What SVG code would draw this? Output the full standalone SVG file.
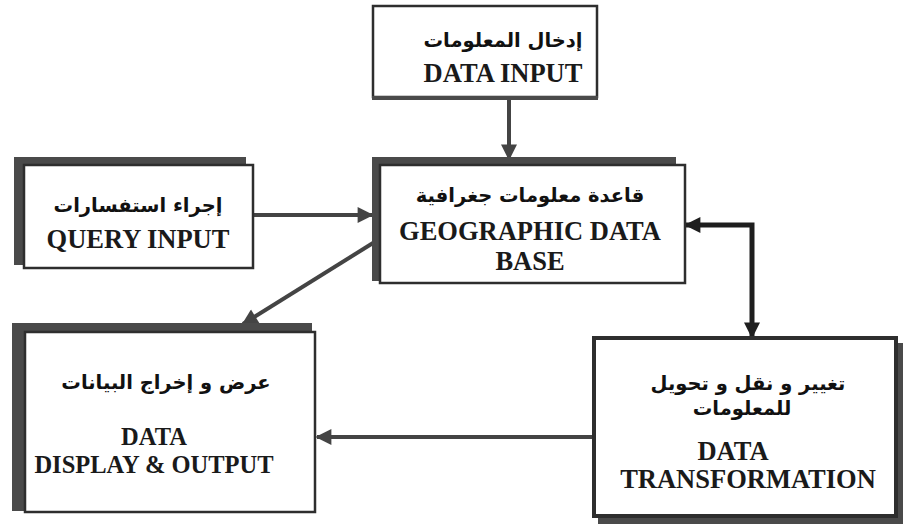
<svg xmlns="http://www.w3.org/2000/svg" width="907" height="528" viewBox="0 0 907 528">
<defs>
<style>
.box{fill:#fff;stroke:#2e2e2e;stroke-width:2.5}
.shadow{fill:#4a4a4a}
.en{font-family:"Liberation Serif","Times New Roman",serif;font-weight:bold;font-size:26.5px;fill:#1a1a1a;text-anchor:middle}
.en2{font-size:24.5px}
.ar{font-family:"DejaVu Sans","Noto Sans",sans-serif;font-weight:bold;font-size:19.5px;fill:#111;text-anchor:middle}
.conn{stroke:#444;stroke-width:4;fill:none}
.conn2{stroke:#1e1e1e;stroke-width:5;fill:none}
</style>
<marker id="ah" viewBox="0 0 10 10" refX="9" refY="5" markerWidth="4.5" markerHeight="4" markerUnits="strokeWidth" orient="auto-start-reverse">
<path d="M0,0 L10,5 L0,10 z" fill="#444"/>
</marker>
<marker id="ah2" viewBox="0 0 10 10" refX="9" refY="5" markerWidth="3.6" markerHeight="3.2" markerUnits="strokeWidth" orient="auto-start-reverse">
<path d="M0,0 L10,5 L0,10 z" fill="#1e1e1e"/>
</marker>
</defs>
<rect width="907" height="528" fill="#fff"/>

<g id="connectors">
<line class="conn" x1="509" y1="100" x2="509" y2="159" marker-end="url(#ah)"/>
<line class="conn" x1="254" y1="215" x2="372" y2="215" marker-end="url(#ah)"/>
<line class="conn" x1="373" y1="243" x2="243" y2="324" marker-end="url(#ah)"/>
<polyline class="conn2" points="686,225 752,225 752,337" marker-start="url(#ah2)" marker-end="url(#ah2)"/>
<line class="conn" x1="593" y1="437" x2="317" y2="437" marker-end="url(#ah)"/>
</g>

<g id="data-input">
<rect class="box" x="373" y="6" width="224" height="91"/>
<rect class="shadow" x="372" y="96" width="226" height="4"/>
<text class="ar" x="503" y="47">إدخال المعلومات</text>
<text class="en" x="503" y="82">DATA INPUT</text>
</g>

<g id="query-input">
<rect class="shadow" x="14" y="157" width="232" height="108"/>
<rect class="box" x="24" y="165" width="229" height="103"/>
<text class="ar" x="138" y="212">إجراء استفسارات</text>
<text class="en" x="138" y="248">QUERY INPUT</text>
</g>

<g id="geographic-database">
<rect class="shadow" x="372" y="157" width="304" height="124"/>
<rect class="box" x="380" y="165" width="305" height="118"/>
<text class="ar" x="530" y="202">قاعدة معلومات جغرافية</text>
<text class="en" x="530" y="240">GEOGRAPHIC DATA</text>
<text class="en" x="530" y="270">BASE</text>
</g>

<g id="data-display">
<rect class="shadow" x="12" y="323" width="300" height="188"/>
<rect class="box" x="25" y="332" width="290" height="180"/>
<text class="ar" x="166" y="389">عرض و إخراج البيانات</text>
<text class="en en2" x="154" y="445">DATA</text>
<text class="en en2" x="154" y="473">DISPLAY &amp; OUTPUT</text>
</g>

<g id="data-transformation">
<rect class="shadow" x="598" y="343" width="305" height="181"/>
<rect class="box" x="594" y="338" width="302" height="178" style="stroke-width:4"/>
<text class="ar" x="748" y="390">تغيير و نقل و تحويل</text>
<text class="ar" x="742" y="415">للمعلومات</text>
<text class="en" x="733" y="460">DATA</text>
<text class="en" x="748" y="488">TRANSFORMATION</text>
</g>
</svg>
